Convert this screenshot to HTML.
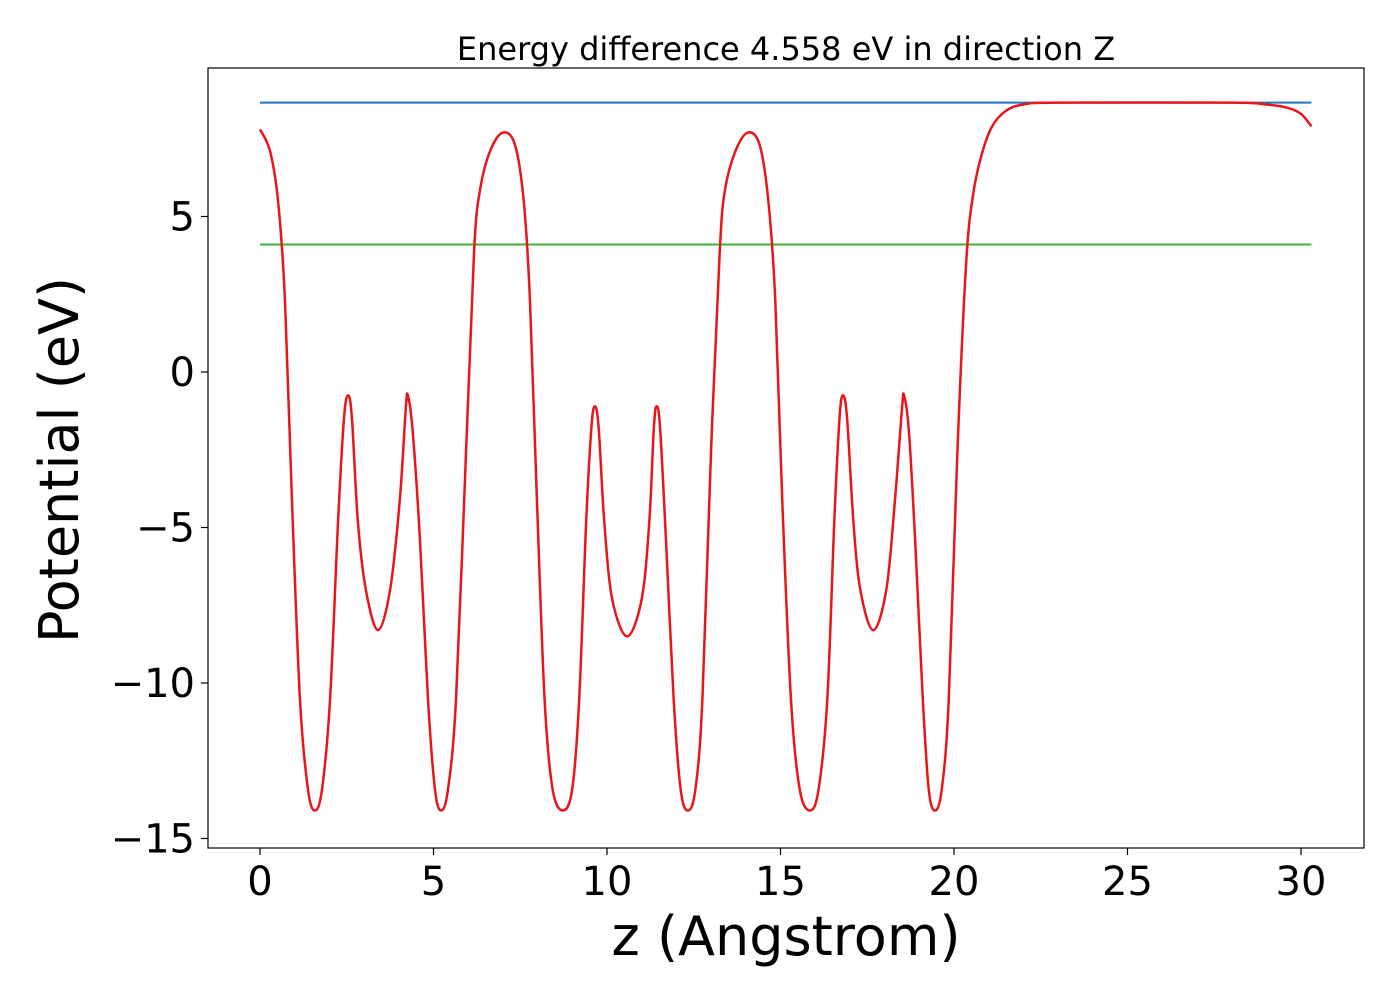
<!DOCTYPE html>
<html><head><meta charset="utf-8"><style>
body{margin:0;background:#fff}
svg{font-family:"DejaVu Sans","Liberation Sans",sans-serif}
</style></head><body>
<svg width="1400" height="1000" xmlns="http://www.w3.org/2000/svg">
<rect width="1400" height="1000" fill="#fff"/>
<text x="786" y="60" font-size="32" text-anchor="middle">Energy difference 4.558 eV in direction Z</text>
<g id="plot"></g>
<rect x="208" y="68" width="1156" height="780" fill="none" stroke="#000" stroke-width="1.2"/>
<text x="786" y="955" font-size="54" text-anchor="middle">z (Angstrom)</text>
<text transform="translate(78,460) rotate(-90)" font-size="54" text-anchor="middle">Potential (eV)</text>
</svg>
<script>
const xTicks=[0,5,10,15,20,25,30];
const yTicks=[5,0,-5,-10,-15];
const yTickLabels=["5","0","\u22125","\u221210","\u221215"];
const vacuumLevel=8.66;
const fermiLevel=4.10;
const zVals=[0,0.29,0.52,0.72,0.92,1.15,1.38,1.58,1.79,2.02,2.25,2.42,2.54,2.65,2.82,3.05,3.40,3.75,4.03,4.2,4.26,4.4,4.61,4.84,5.04,5.22,5.42,5.65,5.94,6.17,6.34,6.63,7.0,7.35,7.6,7.78,7.98,8.2,8.43,8.73,9.0,9.2,9.4,9.55,9.65,9.76,9.92,10.15,10.58,11.0,11.22,11.35,11.43,11.53,11.7,11.92,12.12,12.33,12.55,12.75,13.0,13.25,13.4,13.7,14.06,14.4,14.65,14.85,15.05,15.3,15.55,15.85,16.1,16.35,16.55,16.7,16.8,16.92,17.1,17.3,17.67,18.05,18.3,18.5,18.56,18.7,18.88,19.1,19.27,19.45,19.65,19.85,20.1,20.35,20.55,20.8,21.1,21.5,22,23,28,29,29.6,30,30.3];
const potVals=[7.8,7.1,5.5,2.3,-4.1,-10.5,-13.4,-14.1,-13.4,-10.5,-4.8,-1.5,-0.75,-1.5,-4.8,-7.0,-8.3,-7.0,-4.1,-1.2,-0.75,-1.9,-5.4,-10.5,-13.4,-14.1,-13.4,-10.5,-2.5,3.9,5.85,7.1,7.7,7.3,5.5,2.3,-4.1,-10.5,-13.4,-14.1,-13.4,-10.5,-4.8,-1.8,-1.1,-1.8,-4.8,-7.3,-8.5,-7.3,-4.8,-1.8,-1.1,-1.8,-5.4,-10.5,-13.4,-14.1,-13.4,-10.5,-2.5,3.9,5.85,7.1,7.7,7.3,5.5,2.3,-4.1,-10.5,-13.4,-14.1,-13.4,-10.5,-4.8,-1.5,-0.75,-1.5,-4.8,-7.0,-8.3,-7.0,-4.1,-1.2,-0.75,-1.9,-5.4,-10.5,-13.4,-14.1,-13.4,-10.5,-2.5,3.5,5.7,7.0,7.9,8.4,8.6,8.66,8.66,8.6,8.5,8.3,7.9];
const X=z=>260+z*34.7;
const Y=v=>372-v*31.1;
const NS="http://www.w3.org/2000/svg";
const g=document.getElementById('plot');
function mk(t,a){const e=document.createElementNS(NS,t);for(const k in a)e.setAttribute(k,a[k]);g.appendChild(e);return e;}
xTicks.forEach(t=>{
 const l=mk('line',{x1:X(t),x2:X(t),y1:848,y2:855,stroke:'#000','stroke-width':1.2});
 
 
 const tx=mk('text',{x:X(t),y:895,'font-size':40,'text-anchor':'middle'});
 tx.textContent=t;
 
 
});
yTicks.forEach((t,i)=>{
 const l=mk('line',{x1:201,x2:208,y1:Y(t),y2:Y(t),stroke:'#000','stroke-width':1.2});
 
 
 const tx=mk('text',{x:195,y:Y(t)+14,'font-size':40,'text-anchor':'end'});
 tx.textContent=yTickLabels[i];
 
 
});
const zMin=zVals[0],zMax=zVals[zVals.length-1];
const vl=mk('line',{x1:X(zMin),x2:X(zMax),y1:Y(vacuumLevel),y2:Y(vacuumLevel),stroke:'#1f77c4','stroke-width':2});


const fl=mk('line',{x1:X(zMin),x2:X(zMax),y1:Y(fermiLevel),y2:Y(fermiLevel),stroke:'#3cb03c','stroke-width':2});


const P=zVals.map((z,i)=>[X(z),Y(potVals[i])]);
let d=`M${P[0][0]},${P[0][1]}`;
for(let i=0;i<P.length-1;i++){
 const p0=P[Math.max(0,i-1)],p1=P[i],p2=P[i+1],p3=P[Math.min(P.length-1,i+2)];
 const c1=[p1[0]+(p2[0]-p0[0])/6,p1[1]+(p2[1]-p0[1])/6];
 const c2=[p2[0]-(p3[0]-p1[0])/6,p2[1]-(p3[1]-p1[1])/6];
 d+=` C${c1[0]},${c1[1]} ${c2[0]},${c2[1]} ${p2[0]},${p2[1]}`;
}
const pl=mk('path',{d:d,fill:'none',stroke:'#e8161b','stroke-width':2.5,'stroke-linejoin':'round'});


</script>
</body></html>
